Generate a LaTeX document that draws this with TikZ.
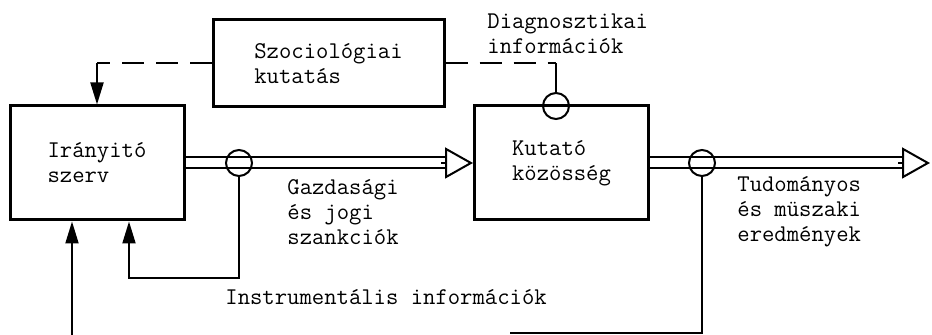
\documentclass[tikz,border=0pt]{standalone}
\usepackage{fontspec}
\usepackage{tikz}
\usetikzlibrary{arrows.meta, positioning, backgrounds}

\begin{document}
\begin{tikzpicture}[
    x=1pt, y=1pt,
    font=\ttfamily\fontsize{12}{12.5}\selectfont,
    block/.style={rectangle, draw=black, line width=1.5pt, minimum width=87pt, minimum height=57pt, align=left},
    tap/.style={circle, draw=black, line width=1pt, minimum size=13pt, inner sep=0pt},
    txt/.style={align=left, inner sep=0pt, anchor=west},
    thin/.style={line width=1pt},
    feed/.style={line width=1pt, -{Triangle[length=11pt, width=6.5pt]}},
    flow/.style={line width=1pt, double, double distance=4.5pt},
    hollow/.style={line width=1pt, -{Triangle[length=14pt, width=15.5pt, fill=white]}},
    dashline/.style={line width=1pt, dash pattern=on 11pt off 6pt}
]
    \useasboundingbox (0,0) rectangle (466,167.5);

    \node[block] (irany) at (48.5,86) {Irányitó\\szerv};
    \node[block] (kutato) at (280.75,86) {Kutató\\közösség};
    \node[block, minimum width=115.5pt, minimum height=43.5pt] (szoc) at (164.25,135.75) {Szociológiai\\kutatás};

    \node[tap] (c1) at (119.5,86) {};
    \node[tap] (c2) at (351,86) {};
    \node[tap] (c3) at (278,114.5) {};

    \coordinate (out) at (465,86);
    \coordinate (fb) at (64.5,28.5);
    \coordinate (instr) at (255,1);
    \coordinate (inp) at (36,0);
    \coordinate (ret) at (irany.north |- szoc.west);
    \coordinate (diag) at (c3 |- szoc.east);

    % labels
    \node[txt] (diagtxt) at (243.5,150.75) {Diagnosztikai\\információk};
    \node[txt] (gazd) at (143.5,61.25) {Gazdasági\\és jogi\\szankciók};
    \node[txt] (tud) at (368.5,61.5) {Tudományos\\és müszaki\\eredmények};
    \node[txt] (instrtxt) at (112.5,19) {Instrumentális információk};

    % main flow
    \begin{scope}[on background layer]
        \draw[flow] (irany.east) -- ([xshift=-14pt]kutato.west);
        \draw[flow] (kutato.east) -- ([xshift=-14pt]out);
    \end{scope}
    \draw[hollow] ([xshift=-16pt]kutato.west) -- (kutato.west);
    \draw[hollow] ([xshift=-16pt]out) -- (out);

    % feedback
    \draw[dashline] (szoc.west) -- (ret);
    \draw[feed] (ret) -- (irany.north);
    \draw[dashline] (szoc.east) -- (diag);
    \draw[thin] (diag) -- (c3.north);
    \draw[feed] (c1.south) |- (fb) -- (fb |- irany.south);
    \draw[thin] (c2.south) |- (instr);
    \draw[feed] (inp) -- (inp |- irany.south);
\end{tikzpicture}
\end{document}
